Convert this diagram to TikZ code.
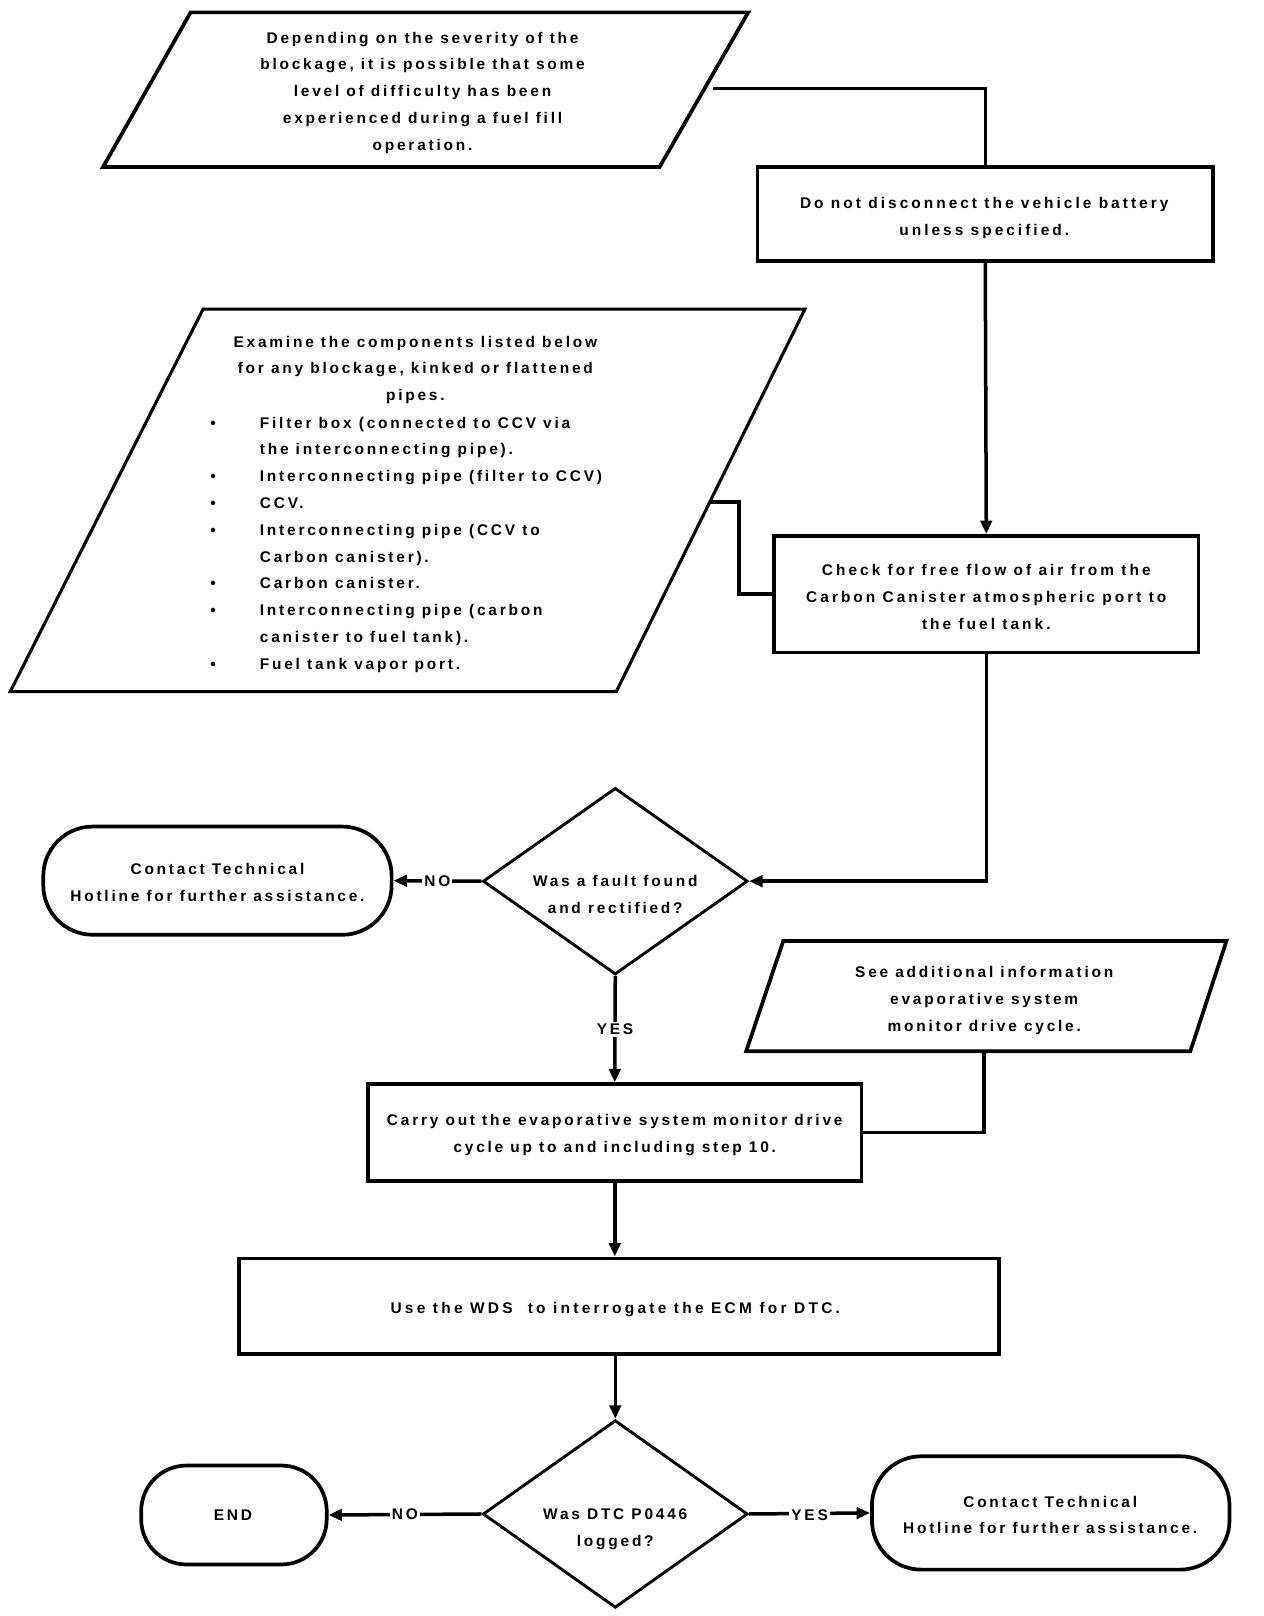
\documentclass[tikz,border=0pt]{standalone}
\usepackage{fontspec}
\usetikzlibrary{shapes.geometric,arrows.meta}
\newfontfamily\flowfont[LetterSpace=18]{Liberation Sans}
\newfontfamily\flowfontw[LetterSpace=19.5]{Liberation Sans}
\newfontfamily\flowfontww[LetterSpace=21]{Liberation Sans}
\begin{document}
\begin{tikzpicture}[x=1pt,y=-1pt,
  every node/.style={font=\flowfont\bfseries\fontsize{15}{26}\selectfont, inner sep=0pt},
  shp/.style={draw, line width=3.6pt, line join=miter},
  boxn/.style={shp, rectangle},
  term/.style={shp, rectangle, rounded corners=48pt},
  dia/.style={shp, diamond, line width=2.8pt},
  txt/.style={align=center},
  conn/.style={line width=3.4pt},
  arr/.style={conn, -{Triangle[length=13pt,width=11pt]}},
  lab/.style={fill=white, inner sep=2pt}
]
\useasboundingbox (0,0) rectangle (1226,1568);

% Parallelogram P1
\draw[shp] (185,12) -- (726,12) -- (640,162) -- (100,162) -- cycle;
\node[txt] (p1) at (410,90) {Depending on the severity of the\\blockage, it is possible that some\\level of difficulty has been\\experienced during a fuel fill\\operation.};
\coordinate (p1r) at (692,86);

% B1
\node[boxn, minimum width=442pt, minimum height=91pt] (b1) at (956,207.5) {};
\node[txt, font=\flowfontw\bfseries\fontsize{15}{26}\selectfont] (b1t) at (955,211.5) {Do not disconnect the vehicle battery\\unless specified.};

% P2
\draw[shp, line width=3pt] (197,300) -- (781,300) -- (598,671) -- (10,671) -- cycle;
\node[txt] (p2h) at (403,359) {Examine the components listed below\\for any blockage, kinked or flattened\\pipes.};
\node[anchor=north west, align=left] (p2l) at (204,397) {%
\begin{tabular}{@{}p{48pt}@{}l@{}}
\textbullet & Filter box (connected to CCV via\\
 & the interconnecting pipe).\\
\textbullet & Interconnecting pipe (filter to CCV)\\
\textbullet & CCV.\\
\textbullet & Interconnecting pipe (CCV to\\
 & Carbon canister).\\
\textbullet & Carbon canister.\\
\textbullet & Interconnecting pipe (carbon\\
 & canister to fuel tank).\\
\textbullet & Fuel tank vapor port.
\end{tabular}};
\coordinate (p2r) at (689,487);

% B2
\node[boxn, minimum width=412pt, minimum height=113pt] (b2) at (957,576.5) {};
\node[txt, font=\flowfontw\bfseries\fontsize{15}{26}\selectfont] (b2t) at (957,579) {Check for free flow of air from the\\Carbon Canister atmospheric port to\\the fuel tank.};

% D1
\node[dia, minimum width=257pt, minimum height=181pt] (d1) at (597,855) {};
\node[txt] (d1t) at (597,868) {Was a fault found\\and rectified?};

% T1
\node[term, minimum width=338pt, minimum height=105pt] (t1) at (211,854.5) {};
\node[txt] (t1t) at (211,856.5) {Contact Technical\\Hotline for further assistance.};

% P3
\draw[shp] (760,913) -- (1190,913) -- (1155,1020) -- (724,1020) -- cycle;
\node[txt] (p3) at (955,970.5) {See additional information\\evaporative system\\monitor drive cycle.};
\coordinate (p3b) at (955,1020);

% B3
\node[boxn, minimum width=479pt, minimum height=94pt] (b3) at (596.5,1099) {};
\node[txt] (b3t) at (596.5,1101) {Carry out the evaporative system monitor drive\\cycle up to and including step 10.};

% B4
\node[boxn, minimum width=737pt, minimum height=93pt] (b4) at (600.5,1267.5) {};
\node[txt, font=\flowfontww\bfseries\fontsize{15}{26}\selectfont] (b4t) at (597,1271) {Use the WDS\ \ to interrogate the ECM for DTC.};

% D2
\node[dia, minimum width=257pt, minimum height=182pt] (d2) at (597,1469) {};
\node[txt] (d2t) at (597,1484) {Was DTC P0446\\logged?};

% END
\node[term, rounded corners=44pt, minimum width=180pt, minimum height=96pt] (endn) at (227,1470) {};
\node[txt] (endt) at (226,1470) {END};

% T3
\node[term, minimum width=347pt, minimum height=110pt] (t3) at (1019.5,1468) {};
\node[txt] (t3t) at (1019,1470) {Contact Technical\\Hotline for further assistance.};

% Connectors
\draw[conn] (p1r) -| (b1.north);
\draw[arr] (b1.south) -- (b2.north);
\draw[conn] (p2r) -- (717,487) |- (b2.west);
\draw[arr] (b2.south) |- (d1.east);
\draw[arr] (d1.west) -- node[lab]{NO} (t1.east);
\draw[arr] (d1.south) -- node[lab]{YES} (b3.north);
\draw[conn] (p3b) |- (b3.east);
\draw[arr] (b3.south) -- (b4.north -| b3.south);
\draw[arr] (b4.south -| d2.north) -- (d2.north);
\draw[arr] (d2.west) -- node[lab]{NO} (endn.east);
\draw[arr] (d2.east) -- node[lab, yshift=-2pt]{YES} (t3.west);
\end{tikzpicture}
\end{document}
